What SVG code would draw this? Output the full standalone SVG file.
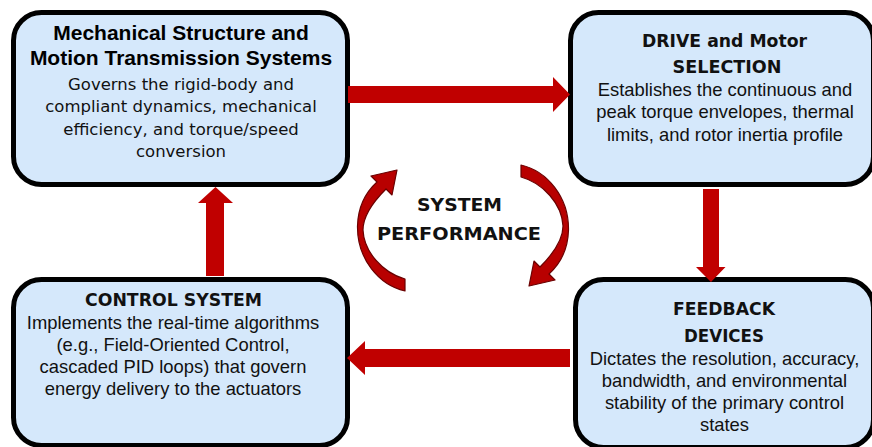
<svg xmlns="http://www.w3.org/2000/svg" width="872" height="447" viewBox="0 0 872 447">
  <defs>
    <style>
      .box { fill: #D5E8FB; stroke: #000; stroke-width: 5; }
      .ttl { font-family: "DejaVu Sans", Verdana, sans-serif; font-weight: bold; font-size: 18.5px; fill: #111; text-anchor: middle; }
      .ttlA { font-family: "Liberation Sans", Arial, sans-serif; font-weight: bold; font-size: 21px; fill: #000; text-anchor: middle; }
      .bodyA { font-family: "Liberation Sans", Arial, sans-serif; font-size: 18.4px; fill: #111; text-anchor: middle; }
      .bodyT { font-family: "DejaVu Sans", Verdana, sans-serif; font-size: 16.5px; fill: #111; text-anchor: middle; }
      .flow { fill: #C00000; }
      .cycle { fill: #B80000; stroke: #6A0000; stroke-width: 1.2; stroke-linejoin: round; }
    </style>
    <!-- curved arrow used twice around the centre label -->
    <path id="cycleArrow" d="M 405,291 C 379,285 357,259 357.5,226 C 358,207 366,192 377,182 L 371,176 L 397,170 L 392,195 L 386,189 C 373,202 363,216 363,230 C 364,252 383,273 405,279 Z"/>
  </defs>

  <!-- Mechanical structure -->
  <g id="mechanical">
    <rect class="box" x="13.5" y="12.5" width="334" height="172" rx="28"/>
    <text class="ttlA" x="181" y="40">Mechanical Structure and</text>
    <text class="ttlA" x="181" y="65">Motion Transmission Systems</text>
    <text class="bodyT" x="181" y="90">Governs the rigid-body and</text>
    <text class="bodyT" x="181" y="112">compliant dynamics, mechanical</text>
    <text class="bodyT" x="181" y="134.5">efficiency, and torque/speed</text>
    <text class="bodyT" x="181" y="156.5">conversion</text>
  </g>

  <!-- Drive and motor selection -->
  <g id="drive">
    <rect class="box" x="570.5" y="12.5" width="303" height="172" rx="28"/>
    <text class="ttl" x="724.5" y="46.5" textLength="165" lengthAdjust="spacingAndGlyphs">DRIVE and Motor</text>
    <text class="ttl" x="727" y="72.5" textLength="109" lengthAdjust="spacingAndGlyphs">SELECTION</text>
    <text class="bodyA" x="725" y="96">Establishes the continuous and</text>
    <text class="bodyA" x="725" y="118.3">peak torque envelopes, thermal</text>
    <text class="bodyA" x="725" y="140.5">limits, and rotor inertia profile</text>
  </g>

  <!-- Control system -->
  <g id="control">
    <rect class="box" x="13.5" y="279.5" width="334" height="166" rx="28"/>
    <text class="ttl" x="173.5" y="305.5" textLength="177" lengthAdjust="spacingAndGlyphs">CONTROL SYSTEM</text>
    <text class="bodyA" x="173" y="329.3">Implements the real-time algorithms</text>
    <text class="bodyA" x="173" y="351.3">(e.g., Field-Oriented Control,</text>
    <text class="bodyA" x="173" y="373.3">cascaded PID loops) that govern</text>
    <text class="bodyA" x="173" y="395.3">energy delivery to the actuators</text>
  </g>

  <!-- Feedback devices -->
  <g id="feedback">
    <rect class="box" x="575.5" y="279.5" width="298" height="168" rx="28"/>
    <text class="ttl" x="724" y="315" textLength="102" lengthAdjust="spacingAndGlyphs">FEEDBACK</text>
    <text class="ttl" x="724" y="341.7" textLength="80" lengthAdjust="spacingAndGlyphs">DEVICES</text>
    <text class="bodyA" x="724.5" y="364.5">Dictates the resolution, accuracy,</text>
    <text class="bodyA" x="724.5" y="386.8">bandwidth, and environmental</text>
    <text class="bodyA" x="724.5" y="409.2">stability of the primary control</text>
    <text class="bodyA" x="724.5" y="431">states</text>
  </g>

  <!-- Centre label with circulating arrows -->
  <g id="performance">
    <use href="#cycleArrow" class="cycle"/>
    <use href="#cycleArrow" class="cycle" transform="rotate(180 463 228)"/>
    <text class="ttl" x="459.5" y="210.5" textLength="85" lengthAdjust="spacingAndGlyphs">SYSTEM</text>
    <text class="ttl" x="459" y="240" textLength="164" lengthAdjust="spacingAndGlyphs">PERFORMANCE</text>
  </g>

  <!-- Block arrows between stages -->
  <g id="connectors">
    <polygon class="flow" points="348,86 553,86 553,77 570,94.5 553,112 553,103 348,103"/>
    <polygon class="flow" points="703,189 719,189 719,267 725.5,267 711,282 696,267 703,267"/>
    <polygon class="flow" points="570,349 570,367 365,367 365,375 347,358 365,341 365,349"/>
    <polygon class="flow" points="206,276 224,276 224,203 233,203 215.5,187 198,203 206,203"/>
  </g>
</svg>
